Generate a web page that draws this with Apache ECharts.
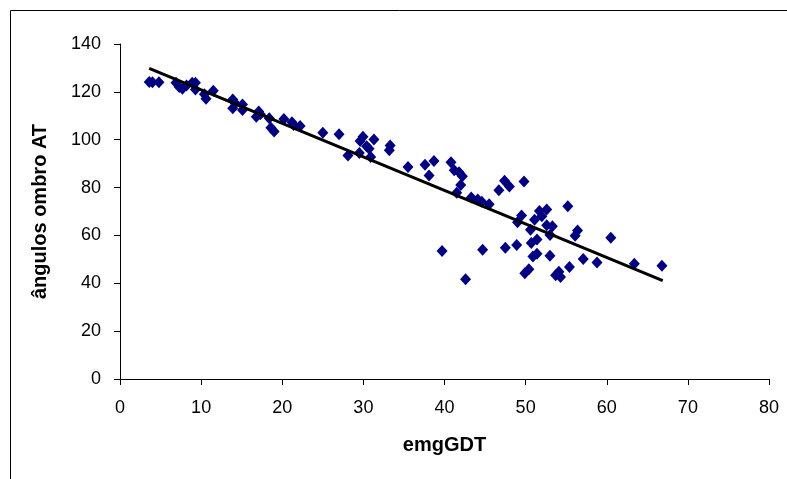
<!DOCTYPE html>
<html>
<head>
<meta charset="utf-8">
<script src="https://cdn.jsdelivr.net/npm/echarts@6/dist/echarts.min.js"></script>
<style>
  html, body { margin: 0; padding: 0; background: #fff; }
  #chart { width: 787px; height: 479px; }
</style>
</head>
<body>
<div id="chart"></div>
<script>
// emgGDT values (x)
const emgGDT = [
  3.6, 4.0, 4.8, 6.9, 7.3, 7.7, 8.2, 8.9, 9.3, 9.3,
  10.4, 10.6, 11.5, 13.9, 13.9, 14.2, 15.1, 15.1, 16.8, 17.1,
  17.3, 18.4, 18.6, 19.0, 20.2, 21.2, 21.4, 22.2, 25.0, 27.0,
  28.1, 29.5, 29.6, 29.95, 30.4, 30.7, 30.9, 31.3, 33.2, 33.3,
  35.5, 37.6, 38.1, 38.7, 39.7, 40.8, 41.2, 41.5, 41.8, 42.0,
  42.2, 42.6, 43.3, 44.1, 44.6, 44.7, 45.5, 46.7, 47.4, 47.5,
  48.0, 48.9, 49.0, 49.5, 49.8, 49.9, 50.4, 50.6, 50.7, 50.9,
  51.1, 51.4, 51.4, 51.7, 52.0, 52.6, 52.6, 53.0, 53.0, 53.3,
  53.7, 54.1, 54.3, 55.2, 55.4, 56.1, 56.4, 57.1, 58.8, 60.5,
  63.4, 66.8
];
// ângulos ombro AT values (y)
const angulos = [
  124.1, 124.0, 124.0, 123.8, 122.0, 121.3, 122.7, 123.8, 123.8, 121.0,
  119.0, 117.1, 120.5, 116.8, 113.2, 115.2, 114.7, 112.4, 109.6, 111.8,
  110.6, 109.0, 105.0, 103.4, 108.7, 107.3, 106.2, 105.7, 102.9, 102.3,
  93.4, 94.5, 99.5, 101.2, 97.3, 96.2, 92.8, 100.1, 95.6, 97.6,
  88.6, 89.5, 85.0, 91.1, 53.5, 90.6, 87.2, 77.8, 86.4, 81.1,
  84.7, 41.7, 75.8, 75.0, 74.1, 54.0, 73.0, 78.9, 82.8, 54.9,
  80.5, 56.0, 65.5, 68.3, 82.5, 44.2, 45.9, 62.4, 56.8, 51.2,
  66.6, 58.3, 52.3, 70.2, 68.0, 70.8, 64.3, 60.2, 51.5, 63.8,
  43.4, 44.8, 42.6, 72.2, 46.8, 59.9, 62.1, 50.1, 48.7, 59.0,
  48.2, 47.3
];
// trend line endpoints
const trendX = [3.6, 66.9];
const trendY = [129.8, 41.1];

const xTicks = { min: 0, max: 80, interval: 10 };
const yTicks = { min: 0, max: 140, interval: 20 };

const chart = echarts.init(document.getElementById('chart'), null, { renderer: 'canvas' });
const font = 'Liberation Sans, Arial, sans-serif';

chart.setOption({
  animation: false,
  backgroundColor: '#ffffff',
  grid: { left: 120, top: 44, width: 649, height: 335, containLabel: false },
  graphic: [{
    type: 'rect',
    shape: { x: 10.5, y: 10.5, width: 800, height: 500 },
    style: { fill: 'none', stroke: '#000', lineWidth: 1 },
    silent: true,
    z: -1
  }],
  xAxis: {
    type: 'value',
    min: xTicks.min, max: xTicks.max, interval: xTicks.interval,
    name: 'emgGDT',
    nameLocation: 'middle',
    nameGap: 56,
    nameTextStyle: { fontFamily: font, fontSize: 20, fontWeight: 'bold', color: '#000' },
    axisLine: { show: true, onZero: false, lineStyle: { color: '#000', width: 1 } },
    axisTick: { show: true, length: 6, inside: false, lineStyle: { color: '#000' } },
    axisLabel: { fontFamily: font, fontSize: 18, color: '#000', margin: 20 },
    splitLine: { show: false }
  },
  yAxis: {
    type: 'value',
    min: yTicks.min, max: yTicks.max, interval: yTicks.interval,
    name: 'ângulos ombro AT',
    nameLocation: 'middle',
    nameRotate: 90,
    nameGap: 70,
    nameTextStyle: { fontFamily: font, fontSize: 20, fontWeight: 'bold', color: '#000' },
    axisLine: { show: true, onZero: false, lineStyle: { color: '#000', width: 1 } },
    axisTick: { show: true, length: 6, inside: false, lineStyle: { color: '#000' } },
    axisLabel: { fontFamily: font, fontSize: 18, color: '#000', margin: 19 },
    splitLine: { show: false }
  },
  series: [
    {
      type: 'scatter',
      symbol: 'diamond',
      symbolSize: [11, 12],
      itemStyle: { color: '#000080', opacity: 1 },
      emphasis: { disabled: true },
      data: emgGDT.map((x, i) => [x, angulos[i]]),
      z: 2
    },
    {
      type: 'line',
      data: trendX.map((x, i) => [x, trendY[i]]),
      symbol: 'none',
      lineStyle: { color: '#000', width: 3 },
      z: 3
    }
  ]
});
</script>
</body>
</html>
